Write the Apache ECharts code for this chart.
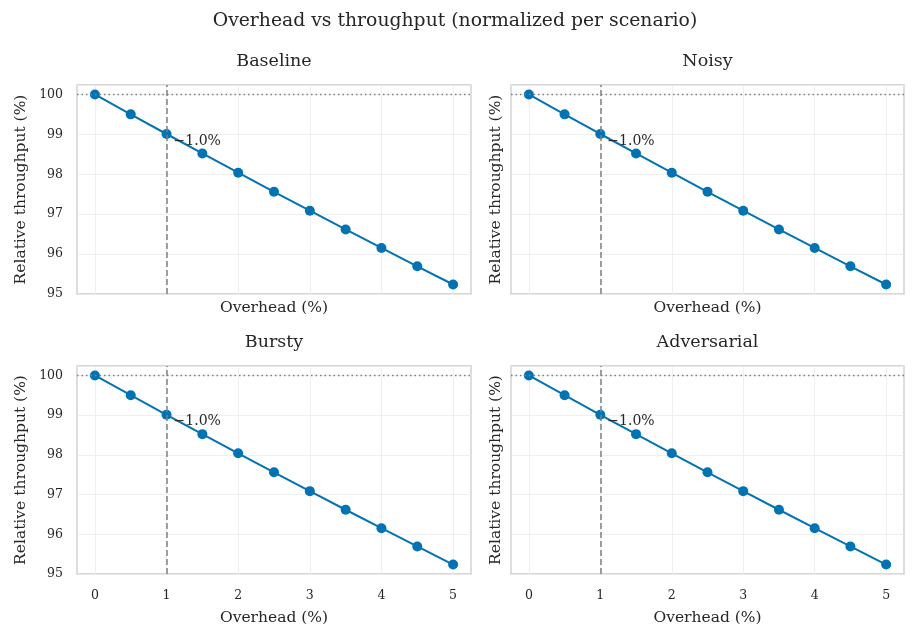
<!DOCTYPE html>
<html>
<head>
<meta charset="utf-8">
<script src="https://cdn.jsdelivr.net/npm/echarts@6/dist/echarts.min.js"></script>
<style>
html,body{margin:0;padding:0;background:#fff;}
#chart{width:917px;height:639px;}
</style>
</head>
<body>
<div id="chart"></div>
<script>
// ---- data ----
const overhead = [0, 0.5, 1, 1.5, 2, 2.5, 3, 3.5, 4, 4.5, 5];
const baseline    = [100, 99.502, 99.010, 98.522, 98.039, 97.561, 97.087, 96.618, 96.154, 95.694, 95.238];
const noisy       = [100, 99.502, 99.010, 98.522, 98.039, 97.561, 97.087, 96.618, 96.154, 95.694, 95.238];
const bursty      = [100, 99.502, 99.010, 98.522, 98.039, 97.561, 97.087, 96.618, 96.154, 95.694, 95.238];
const adversarial = [100, 99.502, 99.010, 98.522, 98.039, 97.561, 97.087, 96.618, 96.154, 95.694, 95.238];
const scenarioNames = ['Baseline', 'Noisy', 'Bursty', 'Adversarial'];
const scenarioValues = [baseline, noisy, bursty, adversarial];
const xTickLabels = ['0', '1', '2', '3', '4', '5'];
const yTickLabels = ['95', '96', '97', '98', '99', '100'];
const markerX = 1;
const markerIndex = 2;
const annotationText = '\u22121.0%';
const referenceY = 100;
const suptitle = 'Overhead vs throughput (normalized per scenario)';

// ---- style / layout ----
const FONT = 'DejaVu Serif';
const TXT = '#262626';
const BLUE = '#0173b2';
const GRID_C = '#ebebeb';
const T = 'rgba(0,0,0,0)';
const grids = [
  {left: 77,  top: 85,  width: 394, height: 209, row: 0, col: 0},
  {left: 511, top: 85,  width: 393, height: 209, row: 0, col: 1},
  {left: 77,  top: 366, width: 394, height: 208, row: 1, col: 0},
  {left: 511, top: 366, width: 393, height: 208, row: 1, col: 1}
];

function isInt(v){ return Math.abs(v - Math.round(v)) < 1e-6; }

const option = {
  animation: false,
  backgroundColor: '#ffffff',
  textStyle: {fontFamily: FONT, color: TXT},
  title: [{
    text: suptitle, left: 455, top: 12, textAlign: 'center', padding: 0,
    textStyle: {fontFamily: FONT, fontSize: 18.8, fontWeight: 'normal', color: TXT}
  }],
  grid: [], xAxis: [], yAxis: [], series: []
};

grids.forEach((g, i) => {
  option.title.push({
    text: scenarioNames[i], padding: 0,
    left: g.left + g.width / 2, top: g.top - 33, textAlign: 'center',
    textStyle: {fontFamily: FONT, fontSize: 17.5, fontWeight: 'normal', color: TXT}
  });
  option.grid.push({
    left: g.left, top: g.top, width: g.width, height: g.height,
    show: true, borderColor: '#cccccc', borderWidth: 1.3, backgroundColor: '#ffffff'
  });
  const bottom = g.row === 1;
  const leftCol = g.col === 0;
  option.xAxis.push({
    gridIndex: i, type: 'value', min: -0.25, max: 5.25, interval: 0.25,
    name: 'Overhead (%)', nameLocation: 'middle', nameGap: bottom ? 36 : 6,
    nameTextStyle: {fontFamily: FONT, fontSize: 15.5, color: TXT},
    axisLine: {show: false}, axisTick: {show: false},
    axisLabel: {
      show: bottom, margin: 15, fontFamily: FONT, fontSize: 12.5, color: TXT,
      formatter: v => (isInt(v) && xTickLabels.indexOf(String(Math.round(v))) >= 0) ? String(Math.round(v)) : ''
    },
    splitLine: {show: true, lineStyle: {color: [T, GRID_C, T, T], width: 0.8}}
  });
  option.yAxis.push({
    gridIndex: i, type: 'value', min: 95, max: 100.238, interval: 1,
    name: 'Relative throughput (%)', nameLocation: 'middle', nameGap: leftCol ? 48 : 7,
    nameTextStyle: {fontFamily: FONT, fontSize: 15.5, color: TXT},
    axisLine: {show: false}, axisTick: {show: false},
    axisLabel: {
      show: leftCol, margin: 14, fontFamily: FONT, fontSize: 12.5, color: TXT,
      formatter: v => (isInt(v) && yTickLabels.indexOf(String(Math.round(v))) >= 0) ? String(Math.round(v)) : ''
    },
    splitLine: {show: true, lineStyle: {color: GRID_C, width: 0.8}}
  });
  // reference lines
  option.series.push({
    type: 'line', xAxisIndex: i, yAxisIndex: i, data: [], z: 1, silent: true,
    markLine: {
      silent: true, symbol: ['none', 'none'], label: {show: false}, animation: false,
      data: [
        {xAxis: markerX, lineStyle: {type: [6, 3], color: '#808080', width: 1.5}},
        {yAxis: referenceY, lineStyle: {type: [1.5, 3], color: '#808080', width: 1.3}}
      ]
    }
  });
  const vals = scenarioValues[i];
  option.series.push({
    type: 'line', xAxisIndex: i, yAxisIndex: i, z: 3,
    symbol: 'circle', symbolSize: 10,
    lineStyle: {color: BLUE, width: 2},
    itemStyle: {color: BLUE},
    data: overhead.map((x, k) => {
      const item = {value: [x, vals[k]]};
      if (k === markerIndex) {
        item.label = {
          show: true, formatter: annotationText, position: 'right', distance: 2,
          offset: [0, 7], fontFamily: FONT, fontSize: 14, color: TXT
        };
      }
      return item;
    })
  });
});

const chart = echarts.init(document.getElementById('chart'), null, {renderer: 'canvas'});
chart.setOption(option);
</script>
</body>
</html>
